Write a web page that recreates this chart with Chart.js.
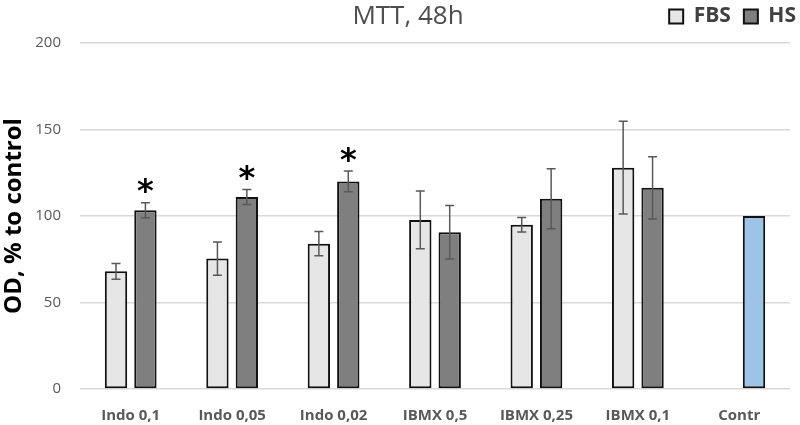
<!DOCTYPE html>
<html>
<head>
<meta charset="utf-8">
<script src="https://cdn.jsdelivr.net/npm/chart.js@4.4.1/dist/chart.umd.min.js"></script>
<style>
  html, body { margin: 0; padding: 0; background: #fff; }
  #wrap { width: 800px; height: 425px; }
</style>
</head>
<body>
<div id="wrap"><canvas id="myChart"></canvas></div>
<script>
// data
const labels = ['Indo 0,1', 'Indo 0,05', 'Indo 0,02', 'IBMX 0,5', 'IBMX 0,25', 'IBMX 0,1', 'Contr'];
const fbs = [68, 75.4, 84, 97.7, 95, 127.9, null];
const fbsErr = [4.6, 9.6, 7, 16.7, 4.2, 26.8, null];
const hs = [103.3, 111, 120, 90.6, 110, 116.3, 100];
const hsErr = [4.3, 4.3, 6, 15.4, 17.3, 18, null];
const hsStar = [true, true, true, false, false, false, false];
const yTicks = [0, 50, 100, 150, 200];

const errors = [fbsErr, hsErr];
const stars = [null, hsStar];

const grey = '#595959';

// error bars + asterisks
const errorBars = {
  id: 'errorBars',
  afterDatasetsDraw(chart) {
    const ctx = chart.ctx;
    const y = chart.scales.y;
    chart.data.datasets.forEach((ds, di) => {
      const meta = chart.getDatasetMeta(di);
      meta.data.forEach((bar, i) => {
        const v = ds.data[i];
        const e = errors[di][i];
        if (v == null || e == null) return;
        const top = y.getPixelForValue(v + e);
        const bot = y.getPixelForValue(v - e);
        ctx.save();
        ctx.strokeStyle = grey;
        ctx.lineWidth = 1.5;
        ctx.beginPath();
        ctx.moveTo(bar.x, top); ctx.lineTo(bar.x, bot);
        ctx.moveTo(bar.x - 4.5, top); ctx.lineTo(bar.x + 4.5, top);
        ctx.moveTo(bar.x - 4.5, bot); ctx.lineTo(bar.x + 4.5, bot);
        ctx.stroke();
        if (stars[di] && stars[di][i]) {
          ctx.font = 'bold 32px "DejaVu Sans"';
          ctx.fillStyle = '#000';
          ctx.textAlign = 'center';
          ctx.textBaseline = 'alphabetic';
          const m = ctx.measureText('*');
          const target = top - 17;
          const yy = target - (m.actualBoundingBoxDescent - m.actualBoundingBoxAscent) / 2;
          ctx.fillText('*', bar.x, yy);
        }
        ctx.restore();
      });
    });
  }
};

const titleText = {
  id: 'titleText',
  afterDraw(chart) {
    const ctx = chart.ctx;
    ctx.save();
    ctx.font = '26px "Open Sans"';
    ctx.fillStyle = '#4d4d4d';
    ctx.textAlign = 'center';
    ctx.textBaseline = 'middle';
    ctx.fillText('MTT, 48h', 408, 17);
    ctx.restore();
  }
};

// fixed legend height, legend pushed to the right edge
const legendBox = {
  id: 'legendBox',
  beforeInit(chart) {
    const fit = chart.legend.fit;
    chart.legend.fit = function () {
      fit.bind(chart.legend)();
      this.height = 50;
    };
  },
  afterLayout(chart) {
    chart.legend.right += 19;
  }
};

const ctx = document.getElementById('myChart').getContext('2d');
new Chart(ctx, {
  type: 'bar',
  data: {
    labels: labels,
    datasets: [{
      label: 'FBS',
      data: fbs,
      backgroundColor: '#e7e6e6',
      borderColor: '#111',
      borderWidth: 2,
      borderSkipped: false
    }, {
      label: 'HS',
      data: hs,
      backgroundColor: (c) => c.dataIndex === 6 ? '#9dc3e6' : '#7f7f7f',
      borderColor: '#111',
      borderWidth: 2,
      borderSkipped: false
    }]
  },
  options: {
    responsive: true,
    maintainAspectRatio: false,
    animation: false,
    categoryPercentage: 0.58,
    barPercentage: 0.76,
    layout: { padding: { top: -7, right: 10, bottom: 0, left: 0 } },
    plugins: {
      tooltip: { enabled: false },
      legend: {
        position: 'top',
        align: 'end',
        labels: {
          boxWidth: 14,
          boxHeight: 14,
          padding: 13,
          color: '#404040',
          font: { family: 'Open Sans', size: 21, weight: 'bold' }
        }
      }
    },
    scales: {
      x: {
        grid: { display: false },
        border: { display: false },
        ticks: {
          color: grey,
          padding: 10,
          font: { family: 'Open Sans', size: 15, weight: 'bold' }
        },
        afterFit(s) { s.height = 36; }
      },
      y: {
        min: 0,
        max: 200,
        afterBuildTicks(s) { s.ticks = yTicks.map(v => ({ value: v })); },
        grid: { color: '#d9d9d9', lineWidth: 1.5, drawTicks: false },
        border: { display: false },
        ticks: {
          color: grey,
          padding: 19,
          font: { family: 'Open Sans', size: 15 }
        },
        title: {
          display: true,
          text: 'OD, % to control',
          color: '#000',
          padding: 0,
          font: { family: 'Open Sans', size: 24, weight: 'bold' }
        },
        afterFit(s) { s.width = 80; }
      }
    }
  },
  plugins: [errorBars, titleText, legendBox]
});
</script>
</body>
</html>
